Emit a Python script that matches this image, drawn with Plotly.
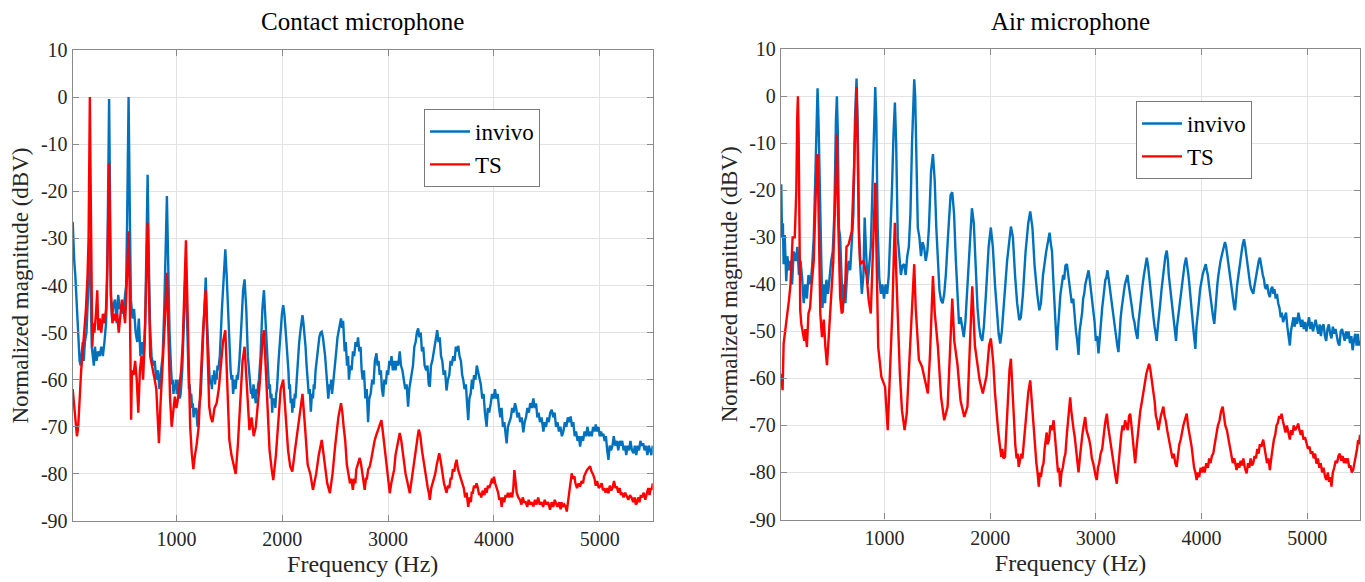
import plotly.graph_objects as go

# ---------------- data: (frequency Hz, magnitude dBV) ----------------
contact_invivo = [
    (20, -26.5), (28, -33), (35, -35), (45, -38), (55, -42), (65, -46), (75, -52), (85, -56), (95, -57), (105, -54),
    (115, -52), (125, -56), (135, -52), (150, -50), (165, -42), (175, -32), (182, -30), (190, -40), (200, -53),
    (210, -55), (220, -57), (230, -53), (245, -56), (260, -54), (275, -55), (290, -53), (305, -55), (320, -52),
    (335, -48), (345, -40), (355, -20), (364, -0.4), (372, -20), (380, -42), (392, -47), (405, -44), (420, -43),
    (435, -48), (450, -42), (465, -45), (480, -44), (495, -46), (510, -43), (525, -40), (535, -25), (548, 0),
    (560, -25), (570, -43), (585, -47), (600, -45), (615, -50), (630, -52), (645, -47), (660, -55), (675, -52),
    (690, -55), (705, -48), (715, -35), (728, -16.5), (740, -35), (750, -48), (765, -55), (780, -57), (795, -56),
    (810, -60), (825, -58), (840, -62), (855, -58), (870, -55), (885, -45), (898, -35), (910, -21), (922, -35),
    (935, -50), (950, -58), (958, -61), (965, -60), (972, -63), (980, -61), (988, -62), (995, -60), (1003, -63),
    (1010, -60), (1018, -62), (1025, -61), (1032, -64), (1040, -63), (1048, -60), (1055, -58), (1070, -48),
    (1085, -37), (1098, -45), (1110, -58), (1118, -62), (1125, -61), (1133, -64), (1140, -63), (1148, -66),
    (1155, -65), (1162, -68), (1170, -66), (1178, -67), (1185, -66), (1193, -69), (1200, -70), (1208, -67),
    (1215, -66), (1222, -64), (1230, -63), (1245, -55), (1262, -45), (1277, -38.3), (1290, -48), (1305, -57),
    (1312, -59), (1320, -61), (1328, -60), (1335, -62), (1342, -59), (1350, -60), (1358, -58), (1365, -61),
    (1372, -59), (1380, -60), (1388, -57), (1395, -58), (1410, -55), (1430, -45), (1450, -35), (1462, -32.3),
    (1475, -38), (1490, -48), (1505, -56), (1512, -58), (1520, -60), (1528, -59), (1535, -63), (1542, -61),
    (1550, -60), (1558, -62), (1565, -61), (1572, -59), (1580, -60), (1595, -56), (1610, -50), (1630, -41),
    (1644, -38.7), (1660, -45), (1675, -55), (1690, -60), (1698, -61), (1705, -63), (1712, -62), (1720, -64),
    (1728, -61), (1735, -62), (1742, -64), (1750, -65), (1758, -62), (1765, -63), (1772, -61), (1780, -60),
    (1795, -55), (1812, -45), (1827, -41), (1842, -47), (1860, -56), (1868, -59), (1875, -62), (1883, -61),
    (1890, -64), (1898, -63), (1905, -67), (1912, -64), (1920, -65), (1928, -64), (1935, -66), (1942, -63),
    (1950, -62), (1965, -56), (1985, -48), (1997, -46), (2009, -44.2), (2020, -46), (2030, -49), (2040, -52),
    (2050, -56), (2058, -58), (2065, -62), (2072, -61), (2080, -65), (2088, -64), (2095, -67), (2102, -64),
    (2110, -66), (2118, -63), (2125, -64), (2140, -58), (2160, -52), (2175, -49), (2191, -46.3), (2200, -48),
    (2210, -50), (2220, -53), (2230, -57), (2240, -60), (2250, -63), (2260, -62), (2270, -66.8), (2280, -63),
    (2290, -64), (2298, -61), (2305, -62), (2315, -58), (2325, -56), (2337, -53), (2350, -51), (2362, -50),
    (2373, -49.8), (2384, -51), (2395, -53), (2405, -55), (2415, -58), (2425, -61), (2435, -64), (2445, -61),
    (2455, -62), (2462, -60), (2470, -63), (2480, -61), (2490, -59), (2500, -56), (2510, -54), (2522, -51),
    (2535, -49), (2545, -48), (2555, -47), (2565, -49), (2575, -47.5), (2590, -54), (2600, -52), (2612, -57),
    (2622, -55), (2630, -60), (2642, -57), (2655, -58), (2668, -54), (2680, -55), (2692, -52), (2705, -53),
    (2716, -51), (2728, -54), (2740, -53), (2750, -58), (2760, -60), (2772, -58), (2785, -64), (2798, -62),
    (2811, -69), (2822, -64), (2835, -63), (2850, -60), (2862, -61), (2875, -56), (2890, -54.4), (2900, -57),
    (2910, -56), (2920, -59), (2932, -58), (2942, -62), (2953, -63.6), (2965, -60), (2978, -61), (2990, -58),
    (3000, -59), (3012, -56), (3022, -57), (3032, -55), (3045, -58), (3058, -56), (3070, -58), (3082, -56),
    (3095, -57), (3110, -54), (3122, -57), (3135, -58), (3150, -60), (3162, -62), (3175, -61), (3189, -65.7),
    (3200, -62), (3212, -60), (3222, -58), (3235, -57), (3248, -53), (3260, -52), (3272, -50), (3284, -49.1),
    (3296, -51), (3308, -50), (3320, -54), (3332, -53), (3345, -57), (3360, -58), (3372, -57), (3384, -61),
    (3394, -61.5), (3405, -57), (3418, -56), (3430, -54), (3442, -52), (3454, -51), (3464, -49.5), (3476, -52),
    (3488, -51), (3500, -55), (3512, -56), (3525, -59), (3538, -58), (3552, -62.3), (3565, -60), (3578, -59),
    (3590, -56), (3600, -57), (3615, -55), (3628, -56), (3640, -53), (3652, -54), (3663, -52.8), (3675, -55),
    (3688, -56), (3700, -59), (3710, -60), (3722, -62), (3735, -61), (3746, -65), (3757, -68.6), (3768, -64),
    (3780, -63), (3792, -60), (3800, -62), (3812, -59), (3825, -60), (3838, -57), (3852, -58.6), (3864, -60),
    (3876, -61), (3890, -64), (3902, -63), (3915, -67), (3931, -70), (3942, -66), (3955, -67), (3970, -65),
    (3982, -63), (3995, -64), (4010, -62), (4022, -64), (4035, -63), (4048, -66), (4060, -68), (4072, -66),
    (4085, -70), (4098, -69), (4110, -72), (4120, -73.5), (4132, -70), (4145, -69), (4160, -68), (4172, -66),
    (4185, -67), (4199, -65), (4210, -66), (4222, -68), (4235, -67), (4248, -69), (4262, -68), (4278, -71.2),
    (4290, -69), (4303, -68), (4316, -66), (4330, -67), (4343, -65), (4358, -66), (4372, -64), (4385, -66),
    (4398, -65), (4410, -68), (4422, -67), (4435, -69), (4450, -68), (4467, -71), (4480, -69), (4493, -70),
    (4505, -68), (4518, -69), (4532, -67), (4546, -66.4), (4560, -68), (4573, -67), (4587, -70), (4600, -69),
    (4614, -71), (4628, -70), (4642, -72), (4656, -71), (4670, -69), (4684, -70), (4698, -68), (4712, -69),
    (4725, -67.8), (4738, -70), (4750, -69), (4763, -72), (4776, -71), (4790, -73), (4803, -72), (4814, -74.2),
    (4828, -72), (4842, -73), (4856, -71), (4870, -72), (4884, -70), (4897, -72), (4910, -71), (4924, -72),
    (4937, -70), (4950, -71), (4962, -69.5), (4975, -71), (4988, -70), (5000, -72), (5012, -71), (5024, -72),
    (5035, -71.5), (5046, -73), (5058, -72), (5070, -75), (5082, -77), (5094, -74), (5106, -75), (5120, -74),
    (5132, -72), (5146, -74), (5161, -73), (5175, -75), (5188, -73), (5200, -74), (5212, -73), (5225, -75),
    (5238, -74), (5250, -76), (5263, -74), (5276, -75), (5290, -73), (5304, -75), (5319, -75.6), (5332, -74),
    (5345, -76), (5358, -74), (5371, -75), (5384, -73), (5397, -74), (5410, -73.5), (5423, -75), (5436, -74),
    (5450, -76), (5463, -74), (5476, -75), (5488, -76), (5500, -74),
]

contact_ts = [
    (20, -62), (30, -65), (45, -68), (60, -72), (72, -70), (85, -64), (100, -58), (115, -54), (130, -50), (145, -45),
    (160, -38), (170, -30), (176, -15), (182, 0), (188, -15), (195, -38), (205, -53), (215, -48), (225, -50),
    (240, -46), (252, -41), (262, -49.5), (275, -47), (290, -50), (305, -46), (320, -48), (335, -45), (348, -35),
    (356, -25), (364, -14), (372, -28), (382, -42), (395, -48), (410, -46), (425, -47.5), (440, -46), (455, -50),
    (470, -47), (485, -43), (500, -45), (515, -48), (525, -43), (535, -35), (548, -28.5), (558, -40), (565, -55),
    (572, -68.5), (580, -58), (595, -59), (610, -56), (625, -60), (640, -67), (655, -58), (670, -55), (685, -60),
    (700, -52), (715, -40), (728, -26.7), (740, -40), (752, -55), (765, -56.5), (780, -58), (795, -60), (810, -62),
    (825, -70), (835, -73.5), (850, -65), (870, -57), (890, -48), (910, -37.3), (925, -52), (940, -64), (955, -70),
    (970, -67), (985, -63.6), (1000, -66), (1015, -64), (1030, -61), (1045, -58), (1060, -52), (1075, -40),
    (1090, -30.4), (1105, -45), (1118, -60), (1130, -70), (1145, -75.6), (1160, -79), (1175, -76), (1190, -74),
    (1210, -70), (1230, -60), (1250, -50), (1277, -41), (1295, -55), (1310, -65.7), (1325, -68), (1340, -69),
    (1360, -66), (1380, -65), (1400, -62), (1420, -57), (1440, -52), (1462, -49.5), (1480, -60), (1500, -72.8),
    (1520, -76), (1540, -78.4), (1560, -80), (1580, -74), (1600, -65), (1625, -56), (1644, -53), (1665, -62),
    (1690, -70.7), (1710, -68), (1730, -72), (1750, -70), (1770, -65), (1790, -60), (1812, -52), (1827, -49.5),
    (1845, -58), (1865, -67), (1880, -75), (1900, -79), (1915, -81.3), (1940, -76), (1965, -68), (1985, -62),
    (2009, -60), (2030, -66), (2055, -75), (2075, -78.4), (2095, -79.5), (2120, -75), (2150, -70), (2175, -65),
    (2191, -63), (2215, -70), (2240, -78), (2265, -80), (2290, -83.4), (2320, -80), (2345, -76), (2373, -72.8),
    (2400, -78), (2425, -82), (2450, -84.1), (2475, -80), (2500, -74), (2530, -68), (2555, -65), (2568, -67),
    (2580, -70), (2595, -73), (2610, -78), (2625, -80), (2640, -82), (2653, -81), (2667, -83.4), (2680, -81),
    (2690, -82), (2700, -79), (2712, -78), (2722, -77), (2732, -76.6), (2745, -78), (2760, -80), (2770, -82),
    (2779, -83.4), (2790, -81), (2800, -81), (2812, -79), (2826, -78.5), (2840, -77), (2850, -75.5), (2860, -75),
    (2872, -73), (2885, -72), (2900, -71), (2912, -70), (2925, -69.5), (2937, -68.6), (2950, -71), (2960, -73),
    (2970, -75), (2982, -78), (2995, -81), (3005, -82), (3016, -84.1), (3030, -82), (3045, -80), (3058, -79),
    (3070, -76), (3080, -75), (3095, -73), (3110, -71.3), (3125, -73), (3140, -76), (3155, -78), (3165, -80),
    (3175, -81), (3190, -83), (3205, -84.1), (3218, -82), (3230, -80), (3240, -78), (3255, -75), (3270, -73),
    (3280, -72), (3290, -70.6), (3305, -72), (3320, -75), (3333, -77), (3345, -79), (3360, -81), (3375, -83),
    (3385, -84), (3394, -85.5), (3408, -83), (3420, -82), (3430, -81), (3445, -80), (3460, -78), (3470, -77),
    (3483, -75.6), (3495, -77), (3505, -79), (3515, -80), (3528, -82), (3540, -83), (3552, -84), (3565, -82.5),
    (3578, -83), (3590, -81), (3600, -81), (3612, -79), (3625, -79.5), (3635, -78), (3647, -77), (3660, -79),
    (3672, -80), (3685, -81), (3700, -82), (3715, -83), (3728, -85), (3742, -84), (3757, -87), (3770, -85),
    (3782, -86), (3790, -84), (3800, -84), (3812, -82.5), (3824, -83), (3836, -82), (3848, -83), (3860, -84.5),
    (3870, -84), (3880, -85), (3895, -83.5), (3910, -84.5), (3920, -83), (3931, -84), (3943, -82.5), (3955, -83),
    (3970, -82), (3982, -81), (3990, -82), (4000, -80.6), (4012, -82), (4025, -83), (4040, -84), (4050, -85.5),
    (4062, -85), (4073, -87), (4085, -85), (4097, -86), (4110, -84.5), (4120, -85), (4132, -84), (4145, -85),
    (4160, -84), (4172, -85), (4183, -83), (4193, -79.2), (4202, -82), (4215, -84), (4230, -85), (4246, -85.5),
    (4260, -86.5), (4272, -85), (4285, -86), (4300, -86), (4315, -87), (4328, -85.5), (4340, -86.5), (4355, -86),
    (4372, -86.9), (4388, -85.5), (4402, -86.5), (4418, -85), (4432, -86.5), (4450, -86), (4465, -87),
    (4480, -85.5), (4495, -86.5), (4512, -86), (4530, -87.6), (4545, -86), (4560, -87), (4575, -85.5),
    (4590, -86.5), (4600, -87), (4615, -86), (4630, -87.5), (4640, -86), (4650, -87), (4665, -86.5), (4678, -87),
    (4688, -88), (4698, -86), (4710, -84), (4722, -82), (4735, -79.9), (4748, -81), (4760, -80.5), (4770, -82),
    (4785, -83), (4800, -82), (4814, -82.7), (4828, -81.5), (4842, -82), (4852, -80.5), (4860, -80), (4872, -79.5),
    (4885, -79), (4897, -78.6), (4909, -78.4), (4922, -79.5), (4935, -80), (4950, -81), (4962, -82.5),
    (4975, -81.5), (4990, -83), (5003, -82.7), (5018, -82), (5030, -83.5), (5040, -83), (5055, -84), (5068, -83),
    (5082, -84.1), (5095, -82.5), (5108, -83.5), (5120, -83), (5135, -81.5), (5148, -83), (5161, -82.7),
    (5175, -84), (5188, -83), (5200, -84.5), (5210, -84), (5225, -85), (5240, -84), (5256, -84.8), (5270, -85.5),
    (5285, -84.5), (5300, -85), (5315, -86), (5330, -85), (5340, -86.5), (5350, -86.2), (5362, -85), (5375, -86),
    (5388, -84.5), (5400, -85), (5415, -84), (5430, -85.5), (5445, -84.1), (5458, -83), (5470, -84.5),
    (5482, -83), (5492, -83.4), (5500, -82),
]

air_invivo = [
    (22, -18.7), (30, -30), (38, -27), (45, -35.7), (55, -29.5), (70, -39.3), (80, -34), (95, -37), (110, -35),
    (125, -40), (140, -33), (160, -35), (175, -32), (190, -38), (205, -35), (220, -38.6), (235, -44), (250, -40),
    (265, -43), (280, -38), (300, -40), (315, -36), (330, -30), (345, -15), (358, -3), (366, 1.7), (375, -5),
    (385, -20), (392, -25.8), (402, -35.7), (412, -45), (425, -40), (437, -44), (450, -39), (465, -42), (480, -38),
    (495, -35), (510, -33), (525, -25), (540, -5), (549, 0), (558, -8), (568, -28), (580, -30), (592, -40),
    (605, -46), (618, -40), (630, -44), (645, -38), (660, -35), (675, -37), (690, -30), (705, -25), (720, -5),
    (735, 3.8), (745, -5), (758, -28), (770, -36), (785, -42), (800, -38), (812, -25.8), (825, -33), (840, -40),
    (855, -36), (870, -32), (885, -20), (900, -5), (912, 2), (922, -5), (935, -28), (950, -38.6), (965, -42),
    (980, -40), (995, -43), (1010, -40), (1025, -42), (1040, -38), (1055, -30), (1070, -20), (1085, -8),
    (1098, -1.3), (1110, -10), (1125, -30), (1140, -34), (1155, -38), (1170, -36), (1185, -35.7), (1200, -38),
    (1215, -34), (1230, -32), (1245, -25), (1260, -10), (1272, 0), (1281, 3.6), (1290, 0), (1300, -12),
    (1315, -28), (1330, -30), (1345, -34), (1360, -31), (1375, -32.2), (1390, -35), (1405, -33), (1420, -28),
    (1440, -16), (1458, -12.3), (1475, -18), (1490, -28), (1505, -35), (1520, -41.4), (1535, -43.4), (1550, -44),
    (1565, -42), (1580, -38), (1600, -30), (1625, -21), (1641, -20.4), (1658, -25), (1675, -35), (1690, -42),
    (1705, -48.4), (1720, -47), (1735, -49), (1750, -51.2), (1765, -48), (1785, -40), (1805, -30), (1827, -23.8),
    (1845, -27), (1865, -38), (1880, -45), (1895, -49), (1910, -51.2), (1925, -52), (1940, -49), (1960, -42),
    (1985, -32), (2006, -27.9), (2025, -32), (2045, -40), (2065, -46), (2080, -50.5), (2095, -52.6), (2110, -50),
    (2130, -44), (2160, -35), (2196, -27.7), (2215, -30), (2235, -38), (2255, -44), (2275, -47.6), (2290, -47),
    (2310, -42), (2335, -33), (2360, -27), (2379, -24.5), (2400, -28), (2420, -36), (2445, -42), (2465, -45.5),
    (2480, -44), (2500, -38), (2530, -33), (2562, -29), (2572, -31), (2585, -33), (2595, -38), (2605, -43),
    (2615, -47), (2622, -51), (2631, -54), (2640, -50), (2648, -47), (2655, -45), (2665, -42), (2678, -40),
    (2690, -38), (2700, -39), (2712, -36), (2726, -35.7), (2738, -38), (2750, -40), (2760, -42), (2772, -44),
    (2786, -43), (2800, -48), (2812, -50), (2824, -52), (2836, -55), (2846, -50), (2858, -48), (2870, -46),
    (2880, -43), (2890, -42), (2900, -40), (2912, -39), (2922, -38), (2931, -37), (2942, -39), (2953, -41),
    (2965, -44), (2976, -46), (2988, -48), (3000, -52), (3012, -51), (3025, -54.7), (3036, -51), (3050, -48),
    (3060, -45), (3070, -43), (3080, -40), (3090, -39), (3100, -38.5), (3110, -37), (3122, -39), (3133, -41),
    (3145, -43), (3157, -45), (3168, -47), (3180, -50), (3192, -51), (3203, -53), (3214, -54.4), (3224, -50),
    (3235, -47), (3245, -45), (3255, -43), (3265, -41), (3275, -40), (3287, -39), (3299, -38), (3310, -40),
    (3320, -42), (3330, -44), (3342, -45), (3353, -47), (3365, -48), (3378, -50), (3394, -51.6), (3404, -48),
    (3412, -46), (3420, -44), (3432, -42), (3443, -40), (3455, -38), (3468, -36), (3482, -34.3), (3494, -36),
    (3502, -38), (3510, -40), (3522, -42), (3533, -45), (3545, -47), (3556, -49), (3566, -51), (3576, -52),
    (3587, -49), (3598, -47), (3610, -44), (3622, -41), (3633, -39), (3645, -36), (3658, -34), (3671, -32.8),
    (3682, -35), (3690, -38), (3700, -40), (3710, -42), (3720, -45), (3730, -47), (3740, -49), (3750, -51),
    (3759, -52), (3768, -49), (3778, -47), (3790, -45), (3802, -42), (3813, -40), (3825, -38), (3838, -36),
    (3854, -34.3), (3866, -36), (3876, -38), (3885, -40), (3895, -43), (3905, -45), (3915, -47), (3925, -50),
    (3934, -52), (3942, -53.7), (3952, -49), (3963, -47), (3975, -44), (3987, -41), (3998, -39), (4010, -38),
    (4022, -37), (4032, -36), (4040, -35.7), (4050, -37), (4060, -38), (4070, -40), (4080, -42), (4090, -44),
    (4100, -46), (4110, -47), (4121, -48.4), (4130, -45), (4140, -42), (4150, -40), (4160, -38), (4170, -36),
    (4180, -35), (4190, -34), (4200, -33), (4211, -32), (4222, -31), (4233, -32), (4244, -34), (4255, -36),
    (4266, -38), (4278, -40), (4290, -42), (4300, -43), (4310, -45), (4317, -45.5), (4326, -42), (4338, -40),
    (4350, -38), (4360, -36), (4370, -34), (4380, -33), (4390, -31.5), (4402, -30.4), (4414, -32), (4422, -33.5),
    (4430, -35), (4440, -37), (4450, -38.5), (4460, -40), (4470, -41), (4480, -41.5), (4490, -42), (4500, -40.5),
    (4510, -39), (4520, -38), (4530, -36.5), (4542, -35), (4553, -34.3), (4563, -36), (4572, -37), (4580, -38),
    (4592, -39), (4600, -40.5), (4610, -41), (4622, -40), (4635, -42), (4647, -42.7), (4658, -41), (4670, -40.5),
    (4680, -42), (4690, -41), (4702, -43), (4714, -42), (4726, -44), (4738, -45), (4750, -47), (4760, -46),
    (4772, -48), (4785, -47), (4800, -46), (4812, -49), (4824, -51), (4836, -53), (4846, -50), (4858, -48),
    (4870, -47), (4882, -49), (4893, -47), (4905, -48.4), (4917, -46), (4930, -47.5), (4942, -49), (4955, -47.5),
    (4968, -49.5), (4980, -48), (4992, -50), (5005, -48.5), (5018, -47), (5030, -49.5), (5042, -48), (5055, -50),
    (5068, -48.5), (5080, -47.5), (5092, -49), (5105, -50.5), (5118, -48.5), (5130, -51), (5142, -49),
    (5155, -48.5), (5168, -51), (5180, -52), (5192, -49.5), (5205, -48.5), (5218, -50.5), (5230, -51.5),
    (5243, -49), (5255, -50.5), (5268, -49.5), (5280, -51.5), (5293, -52.5), (5305, -53), (5318, -50),
    (5330, -49.5), (5342, -51), (5355, -52), (5368, -50), (5380, -51.5), (5392, -50), (5405, -52.5), (5418, -51),
    (5430, -54), (5442, -52), (5455, -50.5), (5468, -53), (5480, -50.5), (5490, -53), (5500, -52),
]

air_ts = [
    (22, -59), (35, -62.5), (45, -52.6), (60, -50), (80, -46.2), (95, -43.4), (110, -40), (130, -30), (150, -30),
    (165, -20), (173, -5), (180, 0), (187, -8), (195, -35), (202, -45.5), (212, -48.4), (230, -51.2), (240, -52),
    (250, -49.5), (265, -53.3), (280, -46.2), (295, -45), (310, -40), (330, -35), (350, -20), (366, -12.3),
    (380, -30), (392, -46.2), (408, -51.2), (425, -47.5), (440, -53.3), (455, -57.2), (475, -50), (495, -43.4),
    (515, -35), (535, -20), (549, -8.1), (560, -25), (580, -42.7), (595, -46.2), (610, -43.4), (625, -42),
    (640, -32), (660, -31.5), (690, -28.7), (712, -15), (725, -5), (735, 2), (745, -10), (758, -30), (770, -35.7),
    (800, -35), (830, -38), (850, -43.4), (870, -46.2), (890, -35), (902, -25), (912, -18.4), (925, -35),
    (940, -53.3), (970, -59.7), (1005, -61.8), (1030, -71), (1050, -60), (1075, -45), (1090, -32), (1098, -26.9),
    (1110, -37), (1130, -52), (1145, -59), (1165, -66.8), (1190, -71), (1210, -67.5), (1240, -53.3), (1265, -42),
    (1281, -35.7), (1295, -45), (1325, -56), (1355, -57.5), (1385, -60.4), (1410, -63.2), (1430, -55), (1450, -45),
    (1458, -38.2), (1475, -46), (1505, -53.3), (1535, -64), (1565, -68.9), (1597, -66), (1620, -55), (1641, -43),
    (1660, -52), (1690, -57), (1720, -64.8), (1755, -68.2), (1785, -66), (1810, -52), (1830, -40.4), (1855, -53),
    (1900, -60.4), (1930, -63.2), (1965, -59.5), (1990, -53), (2006, -51.5), (2018, -54), (2030, -57), (2045, -63),
    (2060, -68), (2075, -71), (2090, -74), (2105, -76.7), (2115, -75), (2125, -77), (2140, -76.7), (2150, -72),
    (2160, -66), (2170, -61), (2183, -58), (2196, -55.8), (2205, -60), (2215, -66), (2225, -71), (2237, -74),
    (2250, -77), (2260, -76), (2270, -78.8), (2282, -77), (2295, -76), (2305, -77), (2315, -74.6), (2330, -71),
    (2345, -67), (2360, -63), (2379, -60.4), (2390, -64), (2400, -68), (2412, -72), (2425, -74.6), (2437, -78),
    (2448, -80), (2460, -83), (2470, -80), (2480, -81), (2492, -79), (2505, -78), (2515, -75), (2525, -73),
    (2535, -71.5), (2545, -74), (2557, -73), (2570, -70), (2585, -71), (2600, -68.9), (2610, -72), (2620, -75),
    (2630, -78), (2642, -80), (2652, -79), (2663, -83), (2675, -80), (2687, -79), (2700, -77), (2712, -76),
    (2725, -72), (2740, -68), (2757, -64), (2768, -67), (2780, -70), (2790, -71), (2800, -72.4), (2812, -75),
    (2824, -78), (2836, -80), (2848, -77), (2860, -74), (2872, -72), (2885, -70), (2899, -68.2), (2912, -71),
    (2925, -72), (2937, -73), (2950, -74.6), (2962, -77), (2975, -78), (2987, -80), (3000, -81), (3009, -81.6),
    (3020, -79), (3032, -78), (3045, -76), (3060, -75), (3072, -72), (3085, -70), (3095, -68.5), (3104, -67.5),
    (3115, -70), (3127, -72), (3138, -74), (3150, -76), (3162, -78), (3175, -80), (3187, -81), (3198, -82.4),
    (3210, -79), (3220, -76), (3230, -74), (3240, -72), (3252, -70), (3265, -71), (3277, -68.9), (3290, -70),
    (3302, -71), (3314, -68), (3325, -67.5), (3337, -70), (3348, -73), (3360, -76), (3372, -78), (3384, -75),
    (3396, -72), (3408, -70), (3420, -67), (3435, -65), (3450, -62.5), (3465, -61), (3478, -59), (3490, -58),
    (3504, -56.9), (3515, -58), (3527, -60), (3538, -61), (3545, -62.5), (3557, -65), (3568, -68), (3580, -69),
    (3592, -71), (3604, -69), (3615, -68), (3627, -67), (3639, -66), (3650, -68), (3662, -69), (3675, -71),
    (3687, -72.4), (3700, -74), (3712, -75), (3725, -77), (3738, -76), (3752, -78), (3765, -78.8), (3778, -76),
    (3790, -74), (3803, -73), (3815, -71), (3828, -70), (3840, -69), (3850, -68), (3860, -67.5), (3872, -70),
    (3884, -72), (3895, -73), (3907, -74.6), (3918, -77), (3930, -79), (3942, -80), (3954, -81.6), (3966, -80),
    (3978, -81), (3992, -79), (4005, -80), (4017, -78.8), (4030, -80), (4045, -78), (4060, -79), (4073, -77),
    (4085, -78), (4098, -76.5), (4111, -76), (4125, -74), (4140, -72), (4155, -70), (4170, -69), (4185, -67),
    (4200, -66), (4212, -68), (4225, -70), (4240, -71), (4254, -73), (4268, -75), (4282, -76), (4296, -78),
    (4310, -77), (4322, -79), (4332, -79.5), (4345, -78), (4358, -79), (4370, -77.5), (4383, -78.5), (4396, -77),
    (4410, -79), (4427, -80.2), (4440, -78), (4452, -79), (4465, -77), (4478, -78.5), (4490, -78), (4502, -76.5),
    (4515, -77), (4528, -75), (4540, -76), (4552, -74), (4566, -74.5), (4584, -73), (4596, -75), (4608, -76),
    (4620, -78), (4633, -77), (4647, -79.5), (4660, -77), (4672, -75), (4685, -73), (4698, -72), (4710, -70),
    (4722, -69.5), (4735, -68), (4748, -68.5), (4758, -67.5), (4770, -69), (4782, -70), (4795, -71.5), (4808, -70),
    (4822, -72), (4836, -73), (4848, -71), (4860, -72), (4873, -70), (4887, -71), (4900, -70.5), (4915, -69.6),
    (4927, -71), (4940, -72), (4952, -71), (4965, -73), (4980, -72.5), (4994, -74), (5008, -75), (5022, -74.5),
    (5035, -76), (5048, -75.5), (5062, -77), (5075, -76), (5088, -78.1), (5102, -77), (5115, -79), (5128, -78),
    (5142, -80), (5155, -79), (5170, -81), (5183, -81.6), (5195, -80), (5208, -82), (5220, -81), (5230, -83),
    (5243, -80), (5256, -79), (5270, -77.5), (5283, -78), (5296, -76.5), (5309, -76), (5322, -77.5), (5335, -76.5),
    (5348, -78), (5360, -77), (5372, -78), (5385, -77), (5398, -79), (5410, -78.5), (5422, -80), (5435, -79.5),
    (5448, -78), (5460, -77), (5472, -75), (5482, -73.1), (5490, -74), (5500, -72),
]

y_tick_vals = [10, 0, -10, -20, -30, -40, -50, -60, -70, -80, -90]
y_tick_text = ["10", "0", "-10", "-20", "-30", "-40", "-50", "-60", "-70", "-80", "-90"]
x_tick_vals = [1000, 2000, 3000, 4000, 5000]
x_tick_text = ["1000", "2000", "3000", "4000", "5000"]
panel_titles = ["Contact microphone", "Air microphone"]
series_names = ["invivo", "TS"]

# ---------------- styling ----------------
W, H = 1365, 582
FONT = "Liberation Serif, Times New Roman, serif"
BLUE = "#0072BD"
RED = "#FF0000"
AXIS_GRAY = "#8a8a8a"
GRID = "#e3e3e3"
LW = 2.4


def split(points):
    return [p[0] for p in points], [p[1] for p in points]


fig = go.Figure()
for pts, name, color, xa, ya, lg in [
    (contact_invivo, series_names[0], BLUE, "x", "y", "legend"),
    (contact_ts, series_names[1], RED, "x", "y", "legend"),
    (air_invivo, series_names[0], BLUE, "x2", "y2", "legend2"),
    (air_ts, series_names[1], RED, "x2", "y2", "legend2"),
]:
    fx, fy = split(pts)
    fig.add_trace(go.Scatter(x=fx, y=fy, mode="lines", name=name, line=dict(color=color, width=LW),
                             xaxis=xa, yaxis=ya, legend=lg))


def xax(domain, anchor):
    return dict(domain=domain, anchor=anchor, range=[20, 5500], tickvals=x_tick_vals, ticktext=x_tick_text,
                ticks="inside", ticklen=6, tickcolor=AXIS_GRAY, showline=True, linecolor=AXIS_GRAY,
                linewidth=1.3, mirror="ticks", showgrid=True, gridcolor=GRID, gridwidth=1, zeroline=False,
                tickfont=dict(family=FONT, size=20, color="#262626"),
                title=dict(text="Frequency (Hz)", font=dict(family=FONT, size=24, color="#262626"), standoff=6),
                automargin=False)


def yax(domain, anchor):
    return dict(domain=domain, anchor=anchor, range=[-90, 10], tickvals=y_tick_vals, ticktext=y_tick_text,
                ticks="inside", ticklen=6, tickcolor=AXIS_GRAY, showline=True, linecolor=AXIS_GRAY,
                linewidth=1.3, mirror="ticks", showgrid=True, gridcolor=GRID, gridwidth=1, zeroline=False,
                tickfont=dict(family=FONT, size=20, color="#262626"),
                title=dict(text="Normalized magnitude (dBV)", font=dict(family=FONT, size=23, color="#262626"),
                           standoff=5),
                automargin=False)


xd1 = [72.7 / W, 652.7 / W]
xd2 = [781 / W, 1360 / W]
yd1 = [1 - 521 / H, 1 - 50 / H]
yd2 = [1 - 519.5 / H, 1 - 49.3 / H]

legend_style = dict(bgcolor="white", bordercolor="#7a7a7a", borderwidth=1,
                    font=dict(family=FONT, size=23, color="black"), xanchor="left", yanchor="top",
                    tracegroupgap=0, itemwidth=40)

fig.update_layout(
    width=W, height=H,
    margin=dict(l=0, r=0, t=0, b=0),
    paper_bgcolor="white", plot_bgcolor="white",
    xaxis=xax(xd1, "y"), yaxis=yax(yd1, "x"),
    xaxis2=xax(xd2, "y2"), yaxis2=yax(yd2, "x2"),
    legend=dict(x=424 / W, y=1 - 109 / H, **legend_style),
    legend2=dict(x=1136 / W, y=1 - 101 / H, **legend_style),
    annotations=[
        dict(text=panel_titles[0], x=(xd1[0] + xd1[1]) / 2, y=1 - 22 / H, xref="paper", yref="paper",
             showarrow=False, font=dict(family=FONT, size=25, color="black"), xanchor="center", yanchor="middle"),
        dict(text=panel_titles[1], x=(xd2[0] + xd2[1]) / 2, y=1 - 22 / H, xref="paper", yref="paper",
             showarrow=False, font=dict(family=FONT, size=25, color="black"), xanchor="center", yanchor="middle"),
    ],
    showlegend=True,
)

fig.write_html("out.html")
